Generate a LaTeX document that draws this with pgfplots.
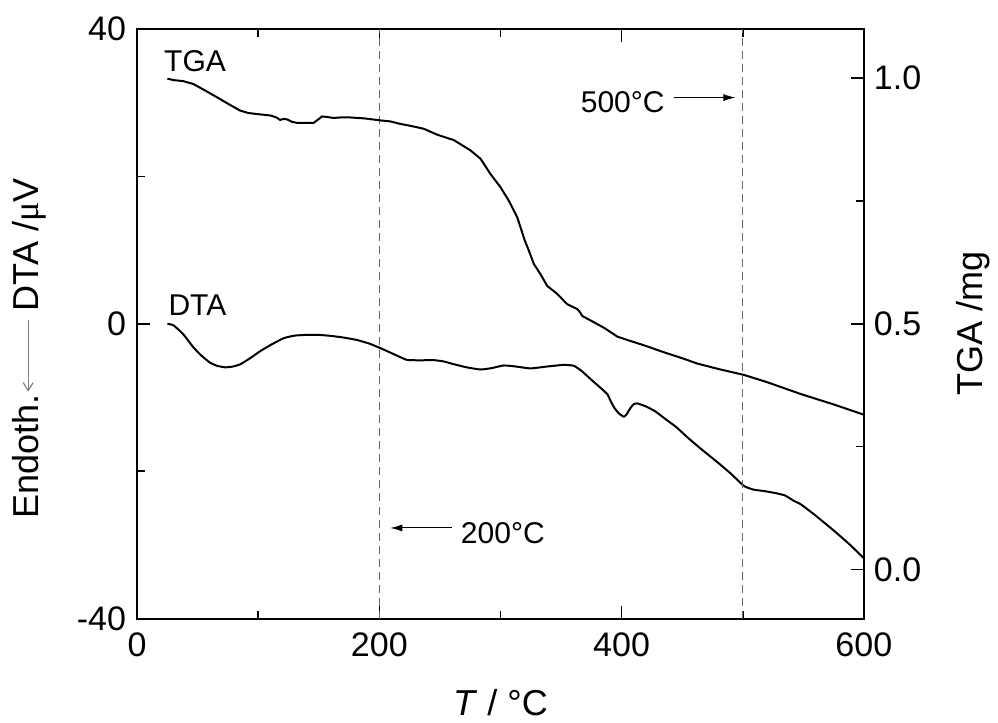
\documentclass[border=0pt]{standalone}
\usepackage{fontspec}
\setmainfont{Liberation Sans}
\newfontfamily\serifmu{Liberation Serif}
\usepackage{pgfplots}
\pgfplotsset{compat=1.18}
\usetikzlibrary{arrows.meta}

\newcommand{\tfs}{\fontsize{17}{20}\selectfont}
\newcommand{\afs}{\fontsize{15}{18}\selectfont}
\newcommand{\lfs}{\fontsize{18}{21}\selectfont}

\begin{document}
\begin{tikzpicture}
\pgfplotsset{
 common/.style={
  width=363pt, height=294.5pt, scale only axis,
  xmin=0, xmax=600,
  tick align=inside,
  major tick length=6.5pt, minor tick length=4pt,
  every tick/.style={black, line width=0.8pt},
  axis line style={line width=0.9pt},
  /pgf/number format/assume math mode=true,
  tick label style={font=\tfs},
  label style={font=\lfs},
 }
}
\begin{axis}[common, name=main,
  ymin=-40, ymax=40,
  xtick={0,200,400,600}, minor xtick={100,300,500},
  ytick={-40,0,40}, minor ytick={-20,20},
  xtick pos=both, ytick pos=left,
  xticklabel style={yshift=-3.5pt},
  yticklabel style={xshift=-2pt},
  xlabel={\textit{T} / °C},
  xlabel style={at={(axis description cs:0.5,0)}, anchor=base, yshift=-48.5pt},
  ylabel={Endoth.\hspace{1pt}\tikz[baseline=0pt]\draw[black!50, line width=0.6pt, -{Straight Barb[length=4pt,width=5pt]}] (36pt,5pt) -- (0pt,5pt);\hspace{4pt}DTA /{\serifmu μ}V},
  ylabel style={at={(axis description cs:-0.1488,0.458)}, anchor=center},
]
\addplot[black, line width=1pt, smooth, tension=0.3] coordinates {
(25,0.0) (30,-0.2) (38,-1.4) (46.5,-3.2) (53,-4.3) (60,-5.25) (66,-5.7) (72.7,-5.9) (79,-5.8) (85,-5.5) (93,-4.7) (101.7,-3.7) (111,-2.8) (121,-1.95) (130,-1.6) (140,-1.5) (150,-1.5) (159.5,-1.63) (170,-1.85) (181.6,-2.2) (192,-2.7) (200.8,-3.3) (209,-3.9) (217,-4.5) (223,-4.9) (233,-4.95) (245,-4.93) (253,-5.1) (261.4,-5.48) (272,-5.9) (283.5,-6.2) (293,-6.0) (302.7,-5.65) (313,-5.8) (324.8,-6.05) (338,-5.8) (352.3,-5.57) (360.6,-5.7) (367,-6.4) (374.4,-7.5) (382,-8.6) (388.2,-9.55) (391,-10.5) (394,-11.4) (398,-12.2) (401.9,-12.6) (404,-12.3) (407.4,-11.4) (410,-10.9) (413,-10.8) (420,-11.2) (428,-11.9) (436,-12.9) (445,-14) (455,-15.5) (465,-16.9) (471,-17.7) (480,-18.9) (490,-20.3) (501,-22.0) (509,-22.5) (518,-22.7) (528,-23.0) (535,-23.3) (542,-24.0) (548,-24.5) (560,-26.0) (575.5,-28.1) (588,-29.9) (600,-31.8)
};
\draw[black!60, line width=0.7pt, dash pattern=on 4pt off 2.5pt] (axis cs:200,-40) -- (axis cs:200,40);
\draw[black!60, line width=0.7pt, dash pattern=on 4pt off 2.5pt] (axis cs:500,-40) -- (axis cs:500,40);
\node[anchor=base west, inner sep=0pt, font=\afs] at (axis cs:22,34.2) {TGA};
\node[anchor=base west, inner sep=0pt, font=\afs] at (axis cs:25.6,1.1) {DTA};
\node[anchor=base west, inner sep=0pt, font=\afs] at (axis cs:366,28.66) {500°C};
\draw[line width=0.5pt, -{Latex[length=6pt,width=3.5pt]}] (axis cs:443,30.7) -- (axis cs:494,30.7);
\node[anchor=base west, inner sep=0pt, font=\afs] at (axis cs:267,-29.75) {200°C};
\draw[line width=0.5pt, -{Latex[length=6pt,width=3.5pt]}] (axis cs:260,-27.7) -- (axis cs:209,-27.7);
\end{axis}
\begin{axis}[common,
  ymin=-0.1, ymax=1.1,
  axis x line=none, axis y line*=right,
  ytick={0,0.5,1}, yticklabels={0.0,0.5,1.0}, minor ytick={0.25,0.75},
  yticklabel style={xshift=1.5pt},
  ylabel={TGA /mg},
  ylabel style={at={(axis description cs:1.150,0.5)}, anchor=center},
]
\addplot[black, line width=1pt] coordinates {
(25,0.999) (30,0.996) (38,0.994) (46.5,0.988) (56,0.975) (66,0.961) (75,0.948) (85,0.934) (92,0.929) (99,0.927) (110,0.924) (115,0.920) (118,0.915) (121,0.917) (124,0.916) (128,0.911) (132,0.909) (145.7,0.909) (149,0.915) (152.6,0.922) (157,0.921) (162,0.919) (168,0.920) (176,0.920) (188,0.918) (200.8,0.914) (209,0.912) (217,0.907) (225.6,0.903) (236.6,0.897) (247.7,0.885) (255,0.879) (261.4,0.874) (268,0.864) (275.2,0.853) (283.5,0.836) (291.7,0.805) (300,0.778) (307,0.75) (313.8,0.717) (320,0.670) (323.4,0.649) (327.5,0.622) (333,0.601) (338.6,0.577) (346.8,0.561) (355,0.540) (363.4,0.530) (365.5,0.524) (367.5,0.516) (375,0.506) (385.4,0.492) (396.4,0.474) (407.4,0.465) (420,0.455) (435,0.442) (450,0.430) (462.6,0.419) (480,0.408) (501,0.396) (520.4,0.381) (548,0.357) (575,0.336) (600,0.315)
};
\end{axis}
\pgfresetboundingbox
\path[use as bounding box] ([xshift=-68.5pt,yshift=-52pt]main.south west) rectangle ([xshift=67pt,yshift=14.5pt]main.north east);
\end{tikzpicture}
\end{document}
